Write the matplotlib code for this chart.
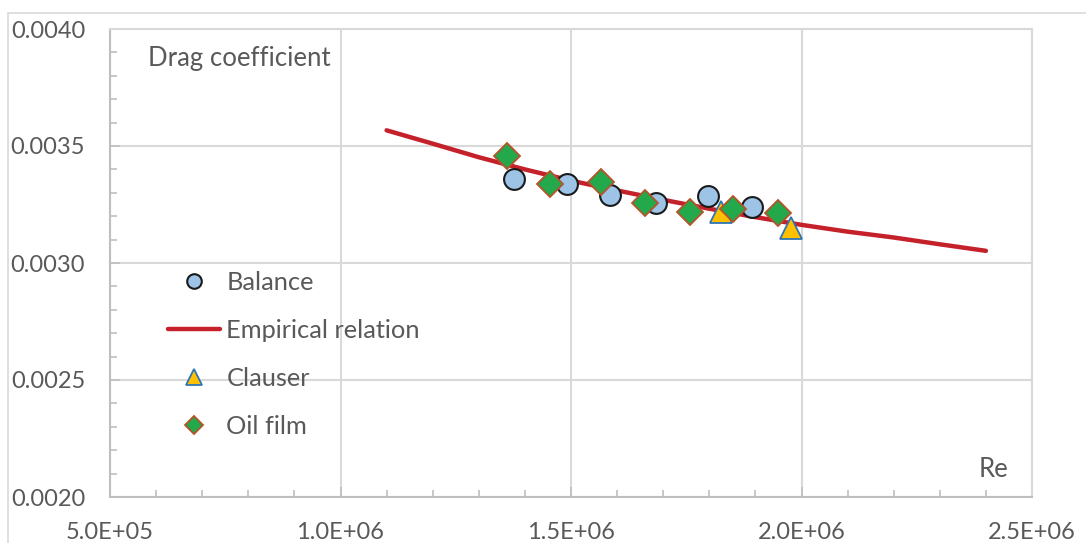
import matplotlib
matplotlib.use("Agg")
import matplotlib.pyplot as plt
from matplotlib.patches import Rectangle
from matplotlib.ticker import MultipleLocator, FuncFormatter

plt.rcParams['font.family'] = ['Lato', 'DejaVu Sans']

# ---------------- data ----------------
re_emp = [1.10e6, 1.20e6, 1.30e6, 1.40e6, 1.50e6, 1.60e6, 1.70e6,
          1.80e6, 1.90e6, 2.00e6, 2.10e6, 2.20e6, 2.30e6, 2.40e6]
cd_emp = [0.003567, 0.003510, 0.003452, 0.003400, 0.003352, 0.003310, 0.003270,
          0.003232, 0.003196, 0.003163, 0.003134, 0.003109, 0.003080, 0.003052]

re_bal = [1.377e6, 1.491e6, 1.585e6, 1.684e6, 1.797e6, 1.892e6]
cd_bal = [0.003359, 0.003336, 0.003291, 0.003255, 0.003286, 0.003238]

re_cla = [1.825e6, 1.977e6]
cd_cla = [0.003219, 0.003148]

re_oil = [1.361e6, 1.454e6, 1.564e6, 1.661e6, 1.758e6, 1.851e6, 1.948e6]
cd_oil = [0.003459, 0.003336, 0.003348, 0.003258, 0.003219, 0.003232, 0.003212]

txt_col = "#595959"
grid_col = "#D9D9D9"
axis_col = "#BFBFBF"

fig = plt.figure(figsize=(10.86, 5.43), dpi=100)
ax = fig.add_axes([110/1086, 1-497/543, 922/1086, 468/543])

# outer chart border
fig.patches.append(Rectangle((8/1086, -0.1), 1.2, 1.1-13/543, transform=fig.transFigure,
                             fill=False, edgecolor=grid_col, linewidth=1.2))

ax.plot(re_emp, cd_emp, color="#C4212B", linewidth=3.2, solid_capstyle="round",
        label="Empirical relation", zorder=3)
ax.plot(re_bal, cd_bal, linestyle="none", marker="o", markersize=15,
        markerfacecolor="#9DC3E6", markeredgecolor="#1A1A1A", markeredgewidth=1.5,
        label="Balance", zorder=4)
ax.plot(re_cla, cd_cla, linestyle="none", marker="^", markersize=16,
        markerfacecolor="#FFC000", markeredgecolor="#2E75B6", markeredgewidth=1.3,
        label="Clauser", zorder=5)
ax.plot(re_oil, cd_oil, linestyle="none", marker="D", markersize=13,
        markerfacecolor="#23A84B", markeredgecolor="#B5522A", markeredgewidth=1.3,
        label="Oil film", zorder=6)

ax.set_xlim(5e5, 2.5e6)
ax.set_ylim(0.0020, 0.0040)

ax.xaxis.set_major_locator(MultipleLocator(5e5))
ax.xaxis.set_minor_locator(MultipleLocator(1e5))
ax.yaxis.set_major_locator(MultipleLocator(0.0005))
ax.yaxis.set_minor_locator(MultipleLocator(0.0001))

ax.xaxis.set_major_formatter(FuncFormatter(lambda v, p: "%.1fE+%02d" % (v / 10**len(str(int(v))[1:]), len(str(int(v))) - 1)))
ax.yaxis.set_major_formatter(FuncFormatter(lambda v, p: "%.4f" % v))

ax.grid(True, which="major", color=grid_col, linewidth=1.5, zorder=0)
ax.set_axisbelow(True)

for s in ["top", "right"]:
    ax.spines[s].set_color(grid_col)
    ax.spines[s].set_linewidth(1.5)
for s in ["left", "bottom"]:
    ax.spines[s].set_color(axis_col)
    ax.spines[s].set_linewidth(1.5)

ax.tick_params(axis="both", which="both", direction="in", color=axis_col, width=1.2,
               labelcolor=txt_col, labelsize=17)
ax.tick_params(axis="both", which="major", length=7)
ax.tick_params(axis="both", which="minor", length=5)
ax.tick_params(axis="y", which="major", pad=18)
ax.tick_params(axis="x", which="major", pad=18)
ax.tick_params(top=False, right=False, which="both")

ax.text(0.041, 0.938, "Drag coefficient", transform=ax.transAxes, fontsize=18.5,
        color=txt_col, va="center", ha="left")
ax.text(0.974, 0.058, "Re", transform=ax.transAxes, fontsize=18.5,
        color=txt_col, va="center", ha="right")

handles, labels = ax.get_legend_handles_labels()
order = [1, 0, 2, 3]
leg = ax.legend([handles[i] for i in order], [labels[i] for i in order],
                loc="upper left", bbox_to_anchor=((168-110)/922, (497-271)/468),
                frameon=False, fontsize=18.3, labelspacing=0.98, handlelength=2.05,
                handletextpad=0.25, borderpad=0, borderaxespad=0, markerscale=0.7)
for t in leg.get_texts():
    t.set_color(txt_col)

fig.savefig("out.png", dpi=100)
plt.close(fig)
